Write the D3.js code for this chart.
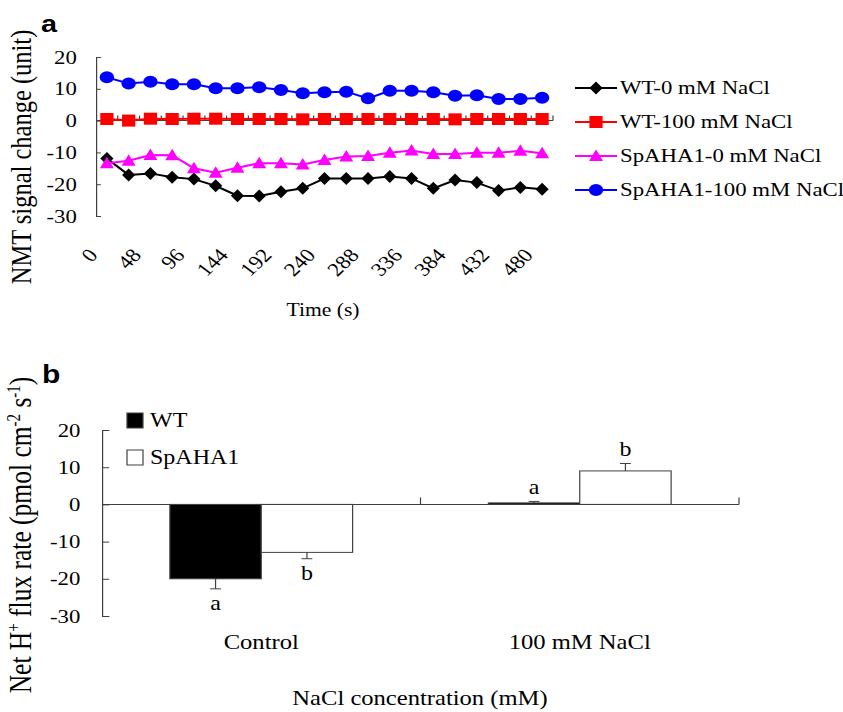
<!DOCTYPE html>
<html>
<head>
<meta charset="utf-8">
<script src="https://cdn.jsdelivr.net/npm/d3@7"></script>
<style>
  body { margin: 0; background: #fff; }
  text { font-family: "Liberation Serif", "Times New Roman", serif; fill: #000; }
</style>
</head>
<body>
<div id="chart"></div>
<script>
// panel a: NMT signal over time
const times = [0, 24, 48, 72, 96, 120, 144, 168, 192, 216, 240, 264, 288, 312, 336, 360, 384, 408, 432, 456, 480];
const timeLabels = ["0", "48", "96", "144", "192", "240", "288", "336", "384", "432", "480"];
const wt0 = [-11.9, -17.1, -16.6, -17.8, -18.4, -20.5, -23.6, -23.7, -22.4, -21.3, -18.2, -18.2, -18.2, -17.6, -18.2, -21.3, -18.7, -19.5, -22.0, -21.0, -21.6];
const wt100 = [0.5, 0.0, 0.6, 0.5, 0.6, 0.6, 0.5, 0.5, 0.5, 0.4, 0.5, 0.5, 0.5, 0.5, 0.5, 0.5, 0.4, 0.5, 0.5, 0.5, 0.5];
const sp0 = [-13.4, -12.6, -10.8, -10.9, -15.0, -16.4, -14.8, -13.4, -13.4, -13.8, -12.4, -11.3, -11.1, -10.1, -9.4, -10.5, -10.5, -10.1, -10.1, -9.5, -10.3];
const sp100 = [13.6, 11.7, 12.2, 11.4, 11.4, 10.2, 10.2, 10.5, 9.6, 8.6, 8.9, 9.1, 7.0, 9.4, 9.4, 8.9, 7.8, 8.0, 6.8, 6.8, 7.2];
const seriesNames = ["WT-0 mM NaCl", "WT-100 mM NaCl", "SpAHA1-0 mM NaCl", "SpAHA1-100 mM NaCl"];
const signalTicks = [-30, -20, -10, 0, 10, 20];

// panel b: net H+ flux
const groups = ["Control", "100 mM NaCl"];
const genotypes = ["WT", "SpAHA1"];
const wtFlux = [-20.0, 0.4];
const wtErr = [2.7, 0.4];
const wtLetters = ["a", "a"];
const spFlux = [-12.9, 9.0];
const spErr = [1.7, 2.0];
const spLetters = ["b", "b"];
const fluxTicks = [-30, -20, -10, 0, 10, 20];

function init() {
    let width = 843;
    let height = 712;
    // the figure is stretched horizontally, so draw in a scaled group
    let SX = 1.2;
    let vx = x => x / SX;
    let axisColor = "#404040";

    let svg = d3.select("#chart")
        .append("svg")
        .attr("width", width)
        .attr("height", height);
    let g = svg.append("g").attr("transform", "scale(" + SX + ",1)");

    // ---------- panel a ----------
    let xScale = d3.scaleBand()
        .domain(times)
        .range([vx(96), vx(553)]);
    let yScale = d3.scaleLinear()
        .domain([-30, 20])
        .range([216, 57]);
    let bw = xScale.bandwidth();
    let cx = i => xScale(times[i]) + bw / 2;

    let yAxisA = g.append("g")
        .attr("transform", "translate(" + vx(96) + ",0)")
        .call(d3.axisLeft(yScale).tickValues(signalTicks).tickSize(-4).tickPadding(16).tickFormat(d => d));
    yAxisA.selectAll("path, line").attr("stroke", axisColor);
    yAxisA.selectAll("text").style("font-size", "19px").style("font-family", "Liberation Serif");

    // category axis along zero
    let boundaries = times.map(t => xScale(t)).concat([xScale.range()[1]]);
    g.append("line")
        .attr("x1", vx(96)).attr("x2", xScale.range()[1])
        .attr("y1", yScale(0)).attr("y2", yScale(0))
        .attr("stroke", axisColor);
    g.selectAll("line.btick")
        .data(boundaries.slice(1))
        .join("line")
        .attr("x1", d => d).attr("x2", d => d)
        .attr("y1", yScale(0)).attr("y2", yScale(0) - 5)
        .attr("stroke", axisColor);

    g.selectAll("text.tlabel")
        .data(timeLabels)
        .join("text")
        .attr("transform", d => "translate(" + (xScale(+d) + bw / 2 - vx(8)) + ",256) rotate(-48)")
        .attr("text-anchor", "end")
        .style("font-size", "19px")
        .text(d => d);

    let series = [
        { name: seriesNames[0], values: wt0, color: "#000000", shape: "diamond" },
        { name: seriesNames[1], values: wt100, color: "#FF0000", shape: "square" },
        { name: seriesNames[2], values: sp0, color: "#FF00FF", shape: "triangle" },
        { name: seriesNames[3], values: sp100, color: "#0000FF", shape: "circle" }
    ];
    let shapePath = {
        diamond: "M0,-6.5L5.5,0L0,6.5L-5.5,0Z",
        square: "M-5.5,-6L5.5,-6L5.5,6L-5.5,6Z",
        triangle: "M0,-6.5L5.8,5L-5.8,5Z",
        circle: "M6,0A6,6 0 1,1 -6,0A6,6 0 1,1 6,0Z"
    };
    let line = d3.line()
        .x((d, i) => cx(i))
        .y(d => yScale(d));

    series.forEach(function (s) {
        g.append("path")
            .datum(s.values)
            .attr("fill", "none")
            .attr("stroke", s.color)
            .attr("stroke-width", 2)
            .attr("d", line);
        g.selectAll(null)
            .data(s.values)
            .join("path")
            .attr("transform", (d, i) => "translate(" + cx(i) + "," + yScale(d) + ")")
            .attr("d", shapePath[s.shape])
            .attr("fill", s.color);
    });

    // legend a
    let legA = g.append("g");
    series.forEach(function (s, i) {
        let yy = 88 + i * 34;
        legA.append("line")
            .attr("x1", vx(575)).attr("x2", vx(617))
            .attr("y1", yy).attr("y2", yy)
            .attr("stroke", s.color).attr("stroke-width", 2);
        legA.append("path")
            .attr("transform", "translate(" + vx(596) + "," + yy + ")")
            .attr("d", shapePath[s.shape])
            .attr("fill", s.color);
        legA.append("text")
            .attr("x", vx(620)).attr("y", yy + 6)
            .style("font-size", "19px")
            .text(s.name);
    });

    g.append("text")
        .attr("x", vx(323)).attr("y", 316)
        .attr("text-anchor", "middle")
        .style("font-size", "18px")
        .text("Time (s)");
    g.append("text")
        .attr("transform", "translate(" + vx(31) + ",157) rotate(-90)")
        .attr("text-anchor", "middle")
        .style("font-size", "24.5px")
        .text("NMT signal change (unit)");
    g.append("text")
        .attr("x", vx(41)).attr("y", 32)
        .style("font-family", "Liberation Sans, Arial, sans-serif")
        .style("font-weight", "bold")
        .style("font-size", "24px")
        .text("a");

    // ---------- panel b ----------
    let x0 = d3.scaleBand()
        .domain(groups)
        .range([vx(102), vx(739)]);
    let x1 = d3.scaleBand()
        .domain(genotypes)
        .range([0, x0.bandwidth()])
        .paddingOuter(0.743);
    let y2 = d3.scaleLinear()
        .domain([-30, 20])
        .range([616, 430]);

    let yAxisB = g.append("g")
        .attr("transform", "translate(" + vx(102) + ",0)")
        .call(d3.axisLeft(y2).tickValues(fluxTicks).tickSize(-6).tickPadding(18).tickFormat(d => d));
    yAxisB.selectAll("path, line").attr("stroke", axisColor);
    yAxisB.selectAll("text").style("font-size", "19px").style("font-family", "Liberation Serif");

    let bars = [];
    groups.forEach(function (grp, i) {
        bars.push({ grp: grp, gen: "WT", v: wtFlux[i], e: wtErr[i], l: wtLetters[i], fill: "#000" });
        bars.push({ grp: grp, gen: "SpAHA1", v: spFlux[i], e: spErr[i], l: spLetters[i], fill: "#fff" });
    });
    let bx = d => x0(d.grp) + x1(d.gen);

    g.selectAll("rect.bar")
        .data(bars)
        .join("rect")
        .attr("x", d => bx(d))
        .attr("width", x1.bandwidth())
        .attr("y", d => y2(Math.max(0, d.v)))
        .attr("height", d => Math.abs(y2(d.v) - y2(0)))
        .attr("fill", d => d.fill)
        .attr("stroke", axisColor)
        .attr("stroke-width", 1);

    // zero axis for panel b
    g.append("line")
        .attr("x1", vx(102)).attr("x2", vx(739))
        .attr("y1", y2(0)).attr("y2", y2(0))
        .attr("stroke", axisColor);
    g.selectAll("line.gtick")
        .data(groups)
        .join("line")
        .attr("x1", d => x0(d) + x0.bandwidth()).attr("x2", d => x0(d) + x0.bandwidth())
        .attr("y1", y2(0)).attr("y2", y2(0) - 7)
        .attr("stroke", axisColor);

    let errEnd = d => y2(d.v < 0 ? d.v - d.e : d.v + d.e);
    let mid = d => bx(d) + x1.bandwidth() / 2;
    g.selectAll("line.err")
        .data(bars)
        .join("line")
        .attr("x1", mid).attr("x2", mid)
        .attr("y1", d => y2(d.v)).attr("y2", errEnd)
        .attr("stroke", axisColor);
    g.selectAll("line.cap")
        .data(bars)
        .join("line")
        .attr("x1", d => mid(d) - 4.5).attr("x2", d => mid(d) + 4.5)
        .attr("y1", errEnd).attr("y2", errEnd)
        .attr("stroke", axisColor);
    g.selectAll("text.sig")
        .data(bars)
        .join("text")
        .attr("x", mid)
        .attr("y", d => d.v < 0 ? errEnd(d) + 21 : errEnd(d) - 7)
        .attr("text-anchor", "middle")
        .style("font-size", "20px")
        .text(d => d.l);

    g.selectAll("text.cat")
        .data(groups)
        .join("text")
        .attr("x", d => x0(d) + x0.bandwidth() / 2)
        .attr("y", 649)
        .attr("text-anchor", "middle")
        .style("font-size", "20.5px")
        .text(d => d);

    // legend b
    genotypes.forEach(function (gen, i) {
        let yy = 413 + i * 37;
        g.append("rect")
            .attr("x", vx(127)).attr("y", yy)
            .attr("width", vx(16)).attr("height", 15)
            .attr("fill", i == 0 ? "#000" : "#fff")
            .attr("stroke", axisColor);
        g.append("text")
            .attr("x", vx(150)).attr("y", yy + 14)
            .style("font-size", "20px")
            .text(gen);
    });

    g.append("text")
        .attr("x", vx(420)).attr("y", 705)
        .attr("text-anchor", "middle")
        .style("font-size", "20.5px")
        .text("NaCl concentration (mM)");

    let yt = g.append("text")
        .attr("transform", "translate(" + vx(31) + ",535) rotate(-90)")
        .attr("text-anchor", "middle")
        .style("font-size", "25.5px");
    yt.append("tspan").text("Net H");
    yt.append("tspan").attr("dy", -9).style("font-size", "15px").text("+");
    yt.append("tspan").attr("dy", 9).text(" flux rate (pmol cm");
    yt.append("tspan").attr("dy", -9).style("font-size", "15px").text("-2");
    yt.append("tspan").attr("dy", 9).text(" s");
    yt.append("tspan").attr("dy", -9).style("font-size", "15px").text("-1");
    yt.append("tspan").attr("dy", 9).text(")");

    g.append("text")
        .attr("x", vx(42)).attr("y", 383)
        .style("font-family", "Liberation Sans, Arial, sans-serif")
        .style("font-weight", "bold")
        .style("font-size", "25px")
        .text("b");
}

window.addEventListener('load', init);
</script>
</body>
</html>
